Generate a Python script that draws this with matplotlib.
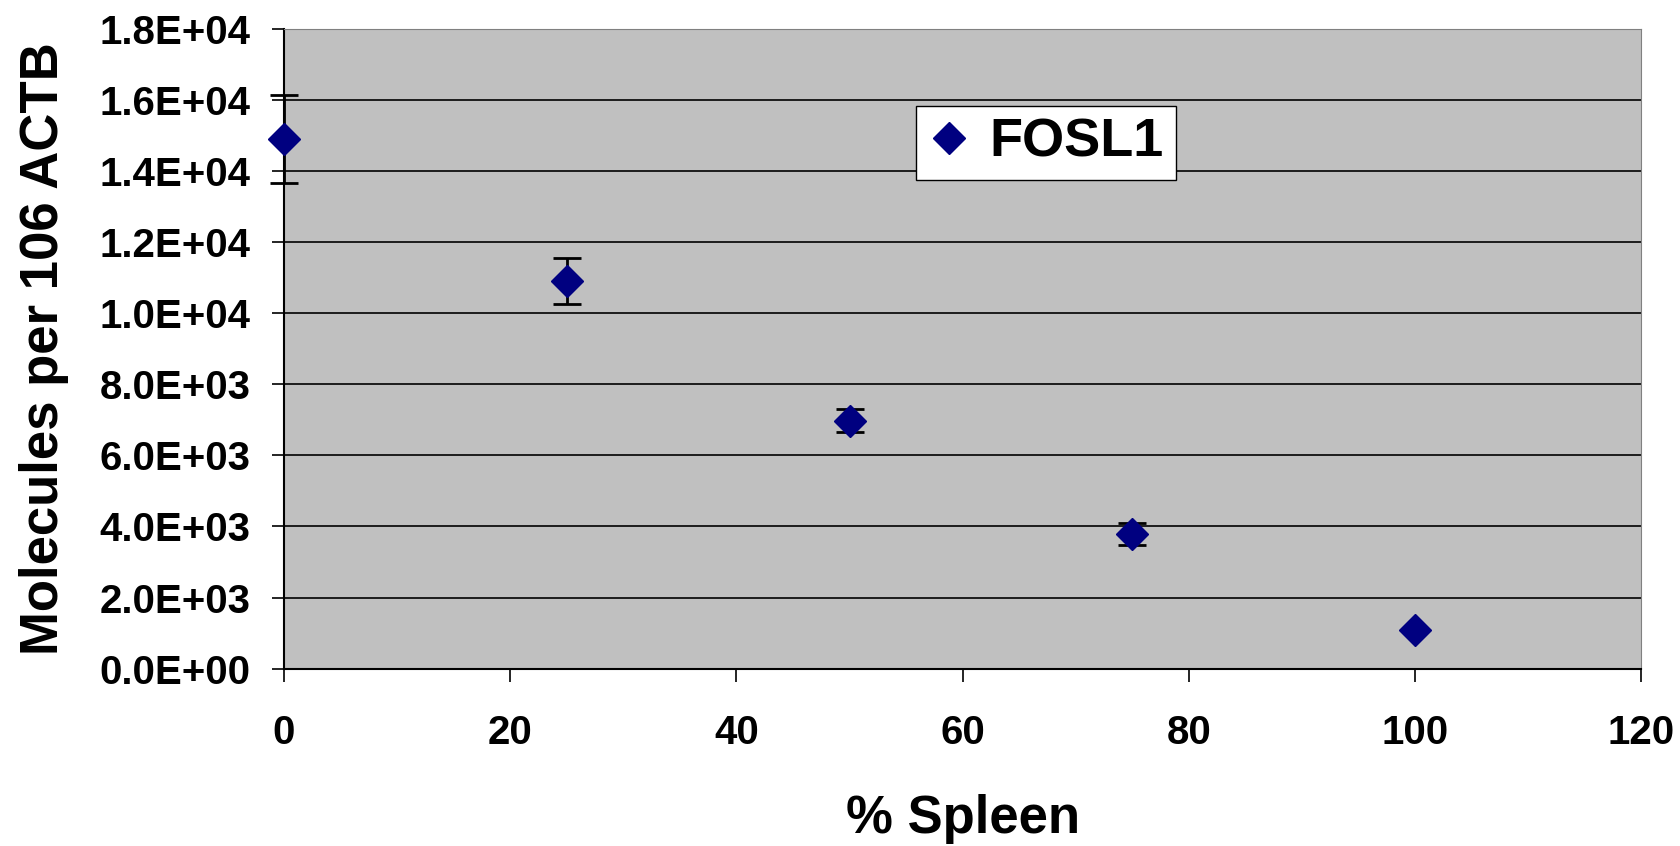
import matplotlib
matplotlib.use("Agg")
import matplotlib.pyplot as plt
from matplotlib.ticker import FuncFormatter, MultipleLocator

plt.rcParams['font.family'] = ['Liberation Sans', 'DejaVu Sans']

spleen_pct = [0, 25, 50, 75, 100]
fosl1 = [14900, 10900, 6980, 3790, 1100]
fosl1_err = [1230, 650, 330, 320, 0]
series_name = "FOSL1"

fig = plt.figure(figsize=(16.8, 8.46), dpi=100)
ax = fig.add_axes([0.169, 0.2097, 0.808, 0.756])
ax.set_facecolor('#C0C0C0')

ax.errorbar(spleen_pct, fosl1, yerr=fosl1_err, fmt='none', ecolor='black',
            elinewidth=2, capsize=10, capthick=2, clip_on=False, zorder=3)
ax.plot(spleen_pct, fosl1, linestyle='none', marker='D', markersize=16,
        color='#000080', markeredgecolor='#000080', label=series_name,
        clip_on=False, zorder=4)

ax.set_xlim(0, 120)
ax.set_ylim(0, 18000)
ax.xaxis.set_major_locator(MultipleLocator(20))
ax.yaxis.set_major_locator(MultipleLocator(2000))
ax.yaxis.set_major_formatter(FuncFormatter(lambda v, p: '{:.1E}'.format(v)))
ax.grid(axis='y', color='black', linewidth=1.2)
ax.set_axisbelow(True)

for s in ['top', 'right']:
    ax.spines[s].set_color('#808080')
ax.spines['left'].set_linewidth(1.5)
ax.spines['bottom'].set_linewidth(1.5)

ax.tick_params(axis='both', direction='out', length=9, width=1.2,
               labelsize=29)
ax.tick_params(axis='y', pad=15)
ax.tick_params(axis='x', pad=24)
for lbl in ax.get_xticklabels() + ax.get_yticklabels():
    lbl.set_fontweight('bold')

ax.set_xlabel('% Spleen', fontsize=38, fontweight='bold', labelpad=30)
ax.set_ylabel('Molecules per 106 ACTB', fontsize=38, fontweight='bold', labelpad=22)

leg = ax.legend(loc='upper left', bbox_to_anchor=(0.545, 0.875),
                bbox_transform=fig.transFigure, fontsize=39, frameon=True,
                fancybox=False, edgecolor='black', framealpha=1,
                handlelength=0.8, handletextpad=0.35, borderpad=0.22,
                borderaxespad=0, markerscale=1.0)
for t in leg.get_texts():
    t.set_fontweight('bold')
leg.get_frame().set_linewidth(1.0)

fig.savefig('out.png', dpi=100, facecolor='white')
